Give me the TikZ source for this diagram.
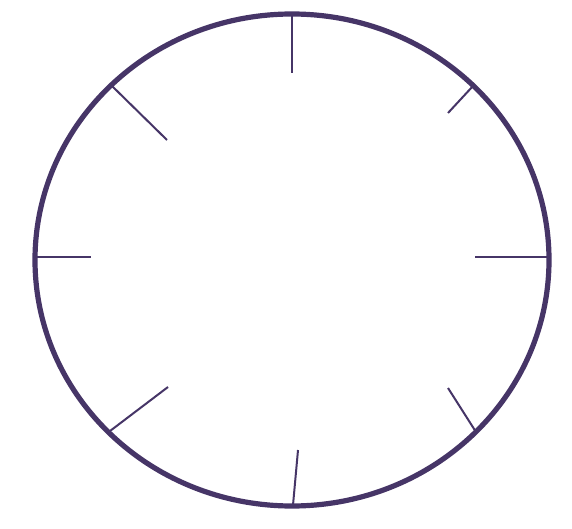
\documentclass[tikz,border=0pt]{standalone}
\definecolor{dialpurple}{HTML}{463567}
\begin{document}
\begin{tikzpicture}[x=1pt,y=-1pt,
  rim/.style={draw=dialpurple,line width=5.2pt},
  tick/.style={draw=dialpurple,line width=2pt}]
\useasboundingbox (0,0) rectangle (572,529);
\fill[white] (0,0) rectangle (572,529);
\draw[rim] (292,260) ellipse [x radius=257, y radius=246];
\draw[tick] (292,14) -- (292,73);
\draw[tick] (473,86) -- (448,113);
\draw[tick] (549,257) -- (475,257);
\draw[tick] (476,432) -- (448,388);
\draw[tick] (293,505) -- (298,450);
\draw[tick] (110,431) -- (168,387);
\draw[tick] (35,257) -- (91,257);
\draw[tick] (112,86) -- (167,140);
\end{tikzpicture}
\end{document}
